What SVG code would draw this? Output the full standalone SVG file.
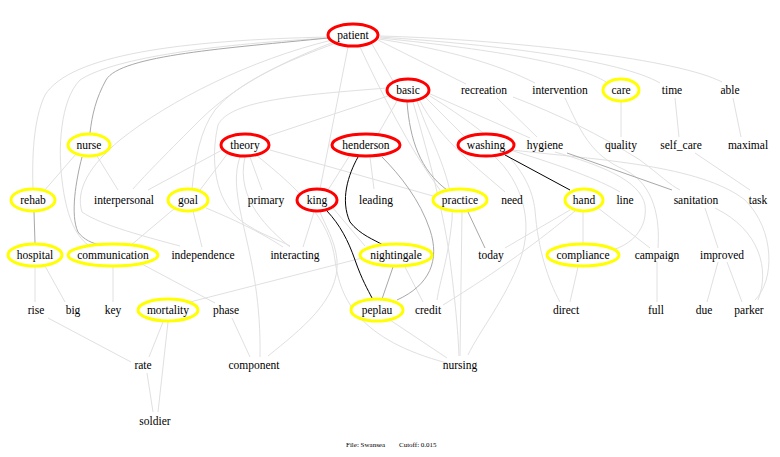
<svg xmlns="http://www.w3.org/2000/svg" width="780" height="457" viewBox="0 0 780 457" font-family="'Liberation Serif', 'Times New Roman', serif">
<style>
.bg{fill:#ffffff}
.e{fill:none;stroke:#e0e0e0;stroke-width:1}
.m{fill:none;stroke:#a8a8a8;stroke-width:1}
.s{fill:none;stroke:#000000;stroke-width:1}
.r{fill:#ffffff;stroke:#ff0000;stroke-width:3}
.y{fill:#ffffff;stroke:#ffff00;stroke-width:3}
text{font-family:'Liberation Serif','Times New Roman',serif;font-size:11.5px;fill:#000000;text-anchor:middle}
.ft{font-size:7px;text-anchor:start}
</style>
<rect class="bg" x="0" y="0" width="780" height="457"/>
<g id="connectors">
<path class="e" d="M330,37 C180,40 70,55 45,95 C33,120 32,160 33,188"/>
<path class="e" d="M330,38 C200,45 110,60 80,80 C60,100 58,150 62,180 C66,215 75,235 88,245"/>
<path class="e" d="M332,40 C250,60 170,100 120,140 C90,165 75,190 82,212 C100,225 150,238 180,246"/>
<path class="e" d="M334,42 C300,55 240,80 200,120 C170,150 145,175 133,189"/>
<path class="e" d="M336,43 C290,60 240,80 215,110 C200,130 195,160 192,189"/>
<path class="e" d="M348,47 L320,189"/>
<path class="e" d="M372,44 L393,81"/>
<path class="e" d="M360,47 C380,90 410,150 440,190"/>
<path class="e" d="M378,40 L466,84"/>
<path class="e" d="M379,39 C450,50 500,65 535,83"/>
<path class="e" d="M380,38 C500,50 580,65 606,82"/>
<path class="e" d="M380,37 C500,45 620,60 660,83"/>
<path class="e" d="M380,36 C520,40 680,60 722,82"/>
<path class="e" d="M388,96 L268,136"/>
<path class="e" d="M387,88 C300,95 230,100 218,125 C210,160 215,200 240,220 C260,235 280,240 290,246"/>
<path class="e" d="M425,97 L465,137"/>
<path class="e" d="M428,93 L530,138"/>
<path class="e" d="M420,101 C440,140 480,170 505,192"/>
<path class="e" d="M397,101 L378,134"/>
<path class="e" d="M417,101 C430,140 455,180 452,220 C448,260 440,280 437,300"/>
<path class="e" d="M413,102 C430,160 445,220 450,260 C455,300 458,330 459,356"/>
<path class="e" d="M430,96 C500,140 530,170 535,210 C538,250 548,280 560,302"/>
<path class="e" d="M512,150 C600,160 700,165 745,200 C775,230 775,280 755,300"/>
<path class="e" d="M715,208 C760,230 770,270 758,300"/>
<path class="e" d="M705,208 L718,248"/>
<path class="e" d="M718,262 L707,302"/>
<path class="e" d="M727,262 L742,302"/>
<path class="e" d="M657,262 L657,302"/>
<path class="e" d="M583,212 L583,243"/>
<path class="e" d="M598,208 L650,248"/>
<path class="e" d="M575,211 C540,240 500,270 443,305"/>
<path class="e" d="M578,267 L570,302"/>
<path class="e" d="M555,152 C600,165 640,180 645,205 C648,230 630,245 612,250"/>
<path class="e" d="M565,98 C580,130 590,155 625,170 C655,185 660,220 658,248"/>
<path class="e" d="M497,98 L537,137"/>
<path class="e" d="M513,97 C560,115 600,135 640,160 C660,175 670,185 680,190"/>
<path class="e" d="M510,150 C560,165 600,180 620,192"/>
<path class="e" d="M621,102 L621,137"/>
<path class="e" d="M675,98 L679,137"/>
<path class="e" d="M733,98 L741,137"/>
<path class="e" d="M695,153 L750,190"/>
<path class="e" d="M370,157 L374,189"/>
<path class="e" d="M350,155 L328,190"/>
<path class="e" d="M495,157 C520,180 535,220 520,260 C505,300 480,330 468,355"/>
<path class="e" d="M462,212 L460,356"/>
<path class="e" d="M228,153 L200,190"/>
<path class="e" d="M250,157 L262,190"/>
<path class="e" d="M222,150 L148,190"/>
<path class="e" d="M270,150 L433,196"/>
<path class="e" d="M240,157 C225,200 262,250 260,357"/>
<path class="e" d="M245,157 C235,200 270,230 290,247"/>
<path class="e" d="M256,155 C300,190 330,220 335,260 C340,300 360,340 447,363"/>
<path class="e" d="M193,211 L202,247"/>
<path class="e" d="M175,208 L130,246"/>
<path class="e" d="M206,208 C240,222 265,235 283,247"/>
<path class="e" d="M76,154 L44,191"/>
<path class="e" d="M97,156 L118,190"/>
<path class="e" d="M35,267 L35,302"/>
<path class="e" d="M45,266 L65,302"/>
<path class="e" d="M113,267 L113,302"/>
<path class="e" d="M140,263 L215,303"/>
<path class="e" d="M362,258 L190,302"/>
<path class="e" d="M163,322 L149,357"/>
<path class="e" d="M168,322 L158,412"/>
<path class="e" d="M147,373 L153,412"/>
<path class="e" d="M48,318 L131,362"/>
<path class="e" d="M232,318 L250,357"/>
<path class="e" d="M303,247 L314,212"/>
<path class="e" d="M268,356 C300,330 340,300 337,260 C335,240 325,225 320,212"/>
<path class="e" d="M405,267 L423,302"/>
<path class="e" d="M390,320 L447,358"/>
<path class="e" d="M570,210 L505,248"/>
<path class="e" d="M333,208 L365,246"/>
<path class="m" d="M328,38 C230,48 120,55 106,80 C96,98 92,115 90,133"/>
<path class="m" d="M82,157 C76,180 70,215 78,232 C84,240 92,243 100,245"/>
<path class="m" d="M34,212 L35,243"/>
<path class="m" d="M407,102 C410,140 420,170 447,190"/>
<path class="m" d="M567,153 L672,190"/>
<path class="m" d="M393,267 L382,299"/>
<path class="m" d="M382,157 C400,175 420,200 430,230 C440,260 430,285 397,300"/>
<path class="m" d="M468,212 L485,248"/>
<path class="s" d="M358,157 C348,175 340,200 350,222 C360,235 375,240 383,245"/>
<path class="s" d="M327,211 C340,225 348,240 355,260 C362,280 368,290 372,298"/>
<path class="s" d="M505,155 L570,190"/>
</g>
<g id="patient"><ellipse class="r" cx="353" cy="35" rx="25" ry="11"/><text x="353" y="39">patient</text></g>
<g id="basic"><ellipse class="r" cx="408" cy="90" rx="21" ry="11"/><text x="408" y="94">basic</text></g>
<g id="recreation"><text x="484" y="94">recreation</text></g>
<g id="intervention"><text x="560" y="94">intervention</text></g>
<g id="care"><ellipse class="y" cx="621" cy="90" rx="18" ry="11"/><text x="621" y="94">care</text></g>
<g id="time"><text x="672" y="94">time</text></g>
<g id="able"><text x="730" y="94">able</text></g>
<g id="nurse"><ellipse class="y" cx="89" cy="145" rx="21" ry="11"/><text x="89" y="149">nurse</text></g>
<g id="theory"><ellipse class="r" cx="245" cy="145" rx="24" ry="11"/><text x="245" y="149">theory</text></g>
<g id="henderson"><ellipse class="r" cx="366" cy="145" rx="34" ry="11"/><text x="366" y="149">henderson</text></g>
<g id="washing"><ellipse class="r" cx="486" cy="145" rx="28" ry="11"/><text x="486" y="149">washing</text></g>
<g id="hygiene"><text x="545" y="149">hygiene</text></g>
<g id="quality"><text x="621" y="149">quality</text></g>
<g id="self_care"><text x="681" y="149">self_care</text></g>
<g id="maximal"><text x="748" y="149">maximal</text></g>
<g id="rehab"><ellipse class="y" cx="33" cy="200" rx="22" ry="11"/><text x="33" y="204">rehab</text></g>
<g id="interpersonal"><text x="124" y="204">interpersonal</text></g>
<g id="goal"><ellipse class="y" cx="188" cy="200" rx="20" ry="11"/><text x="188" y="204">goal</text></g>
<g id="primary"><text x="266" y="204">primary</text></g>
<g id="king"><ellipse class="r" cx="317" cy="200" rx="20" ry="11"/><text x="317" y="204">king</text></g>
<g id="leading"><text x="376" y="204">leading</text></g>
<g id="practice"><ellipse class="y" cx="460" cy="200" rx="27" ry="11"/><text x="460" y="204">practice</text></g>
<g id="need"><text x="512" y="204">need</text></g>
<g id="hand"><ellipse class="y" cx="584" cy="200" rx="19" ry="11"/><text x="584" y="204">hand</text></g>
<g id="line"><text x="625" y="204">line</text></g>
<g id="sanitation"><text x="696" y="204">sanitation</text></g>
<g id="task"><text x="758" y="204">task</text></g>
<g id="hospital"><ellipse class="y" cx="35" cy="255" rx="27" ry="11"/><text x="35" y="259">hospital</text></g>
<g id="communication"><ellipse class="y" cx="113" cy="255" rx="45" ry="11"/><text x="113" y="259">communication</text></g>
<g id="independence"><text x="203" y="259">independence</text></g>
<g id="interacting"><text x="295" y="259">interacting</text></g>
<g id="nightingale"><ellipse class="y" cx="396" cy="255" rx="36" ry="11"/><text x="396" y="259">nightingale</text></g>
<g id="today"><text x="491" y="259">today</text></g>
<g id="compliance"><ellipse class="y" cx="583" cy="255" rx="36" ry="11"/><text x="583" y="259">compliance</text></g>
<g id="campaign"><text x="657" y="259">campaign</text></g>
<g id="improved"><text x="722" y="259">improved</text></g>
<g id="rise"><text x="36" y="314">rise</text></g>
<g id="big"><text x="73" y="314">big</text></g>
<g id="key"><text x="113" y="314">key</text></g>
<g id="mortality"><ellipse class="y" cx="168" cy="310" rx="30" ry="11"/><text x="168" y="314">mortality</text></g>
<g id="phase"><text x="226" y="314">phase</text></g>
<g id="peplau"><ellipse class="y" cx="377" cy="310" rx="26" ry="11"/><text x="377" y="314">peplau</text></g>
<g id="credit"><text x="428" y="314">credit</text></g>
<g id="direct"><text x="566" y="314">direct</text></g>
<g id="full"><text x="656" y="314">full</text></g>
<g id="due"><text x="704" y="314">due</text></g>
<g id="parker"><text x="749" y="314">parker</text></g>
<g id="rate"><text x="143" y="369">rate</text></g>
<g id="component"><text x="254" y="369">component</text></g>
<g id="nursing"><text x="460" y="369">nursing</text></g>
<g id="soldier"><text x="155" y="425">soldier</text></g>
<text class="ft" x="346" y="447">File: Swansea</text>
<text class="ft" x="399" y="447">Cutoff: 0.015</text>
</svg>
